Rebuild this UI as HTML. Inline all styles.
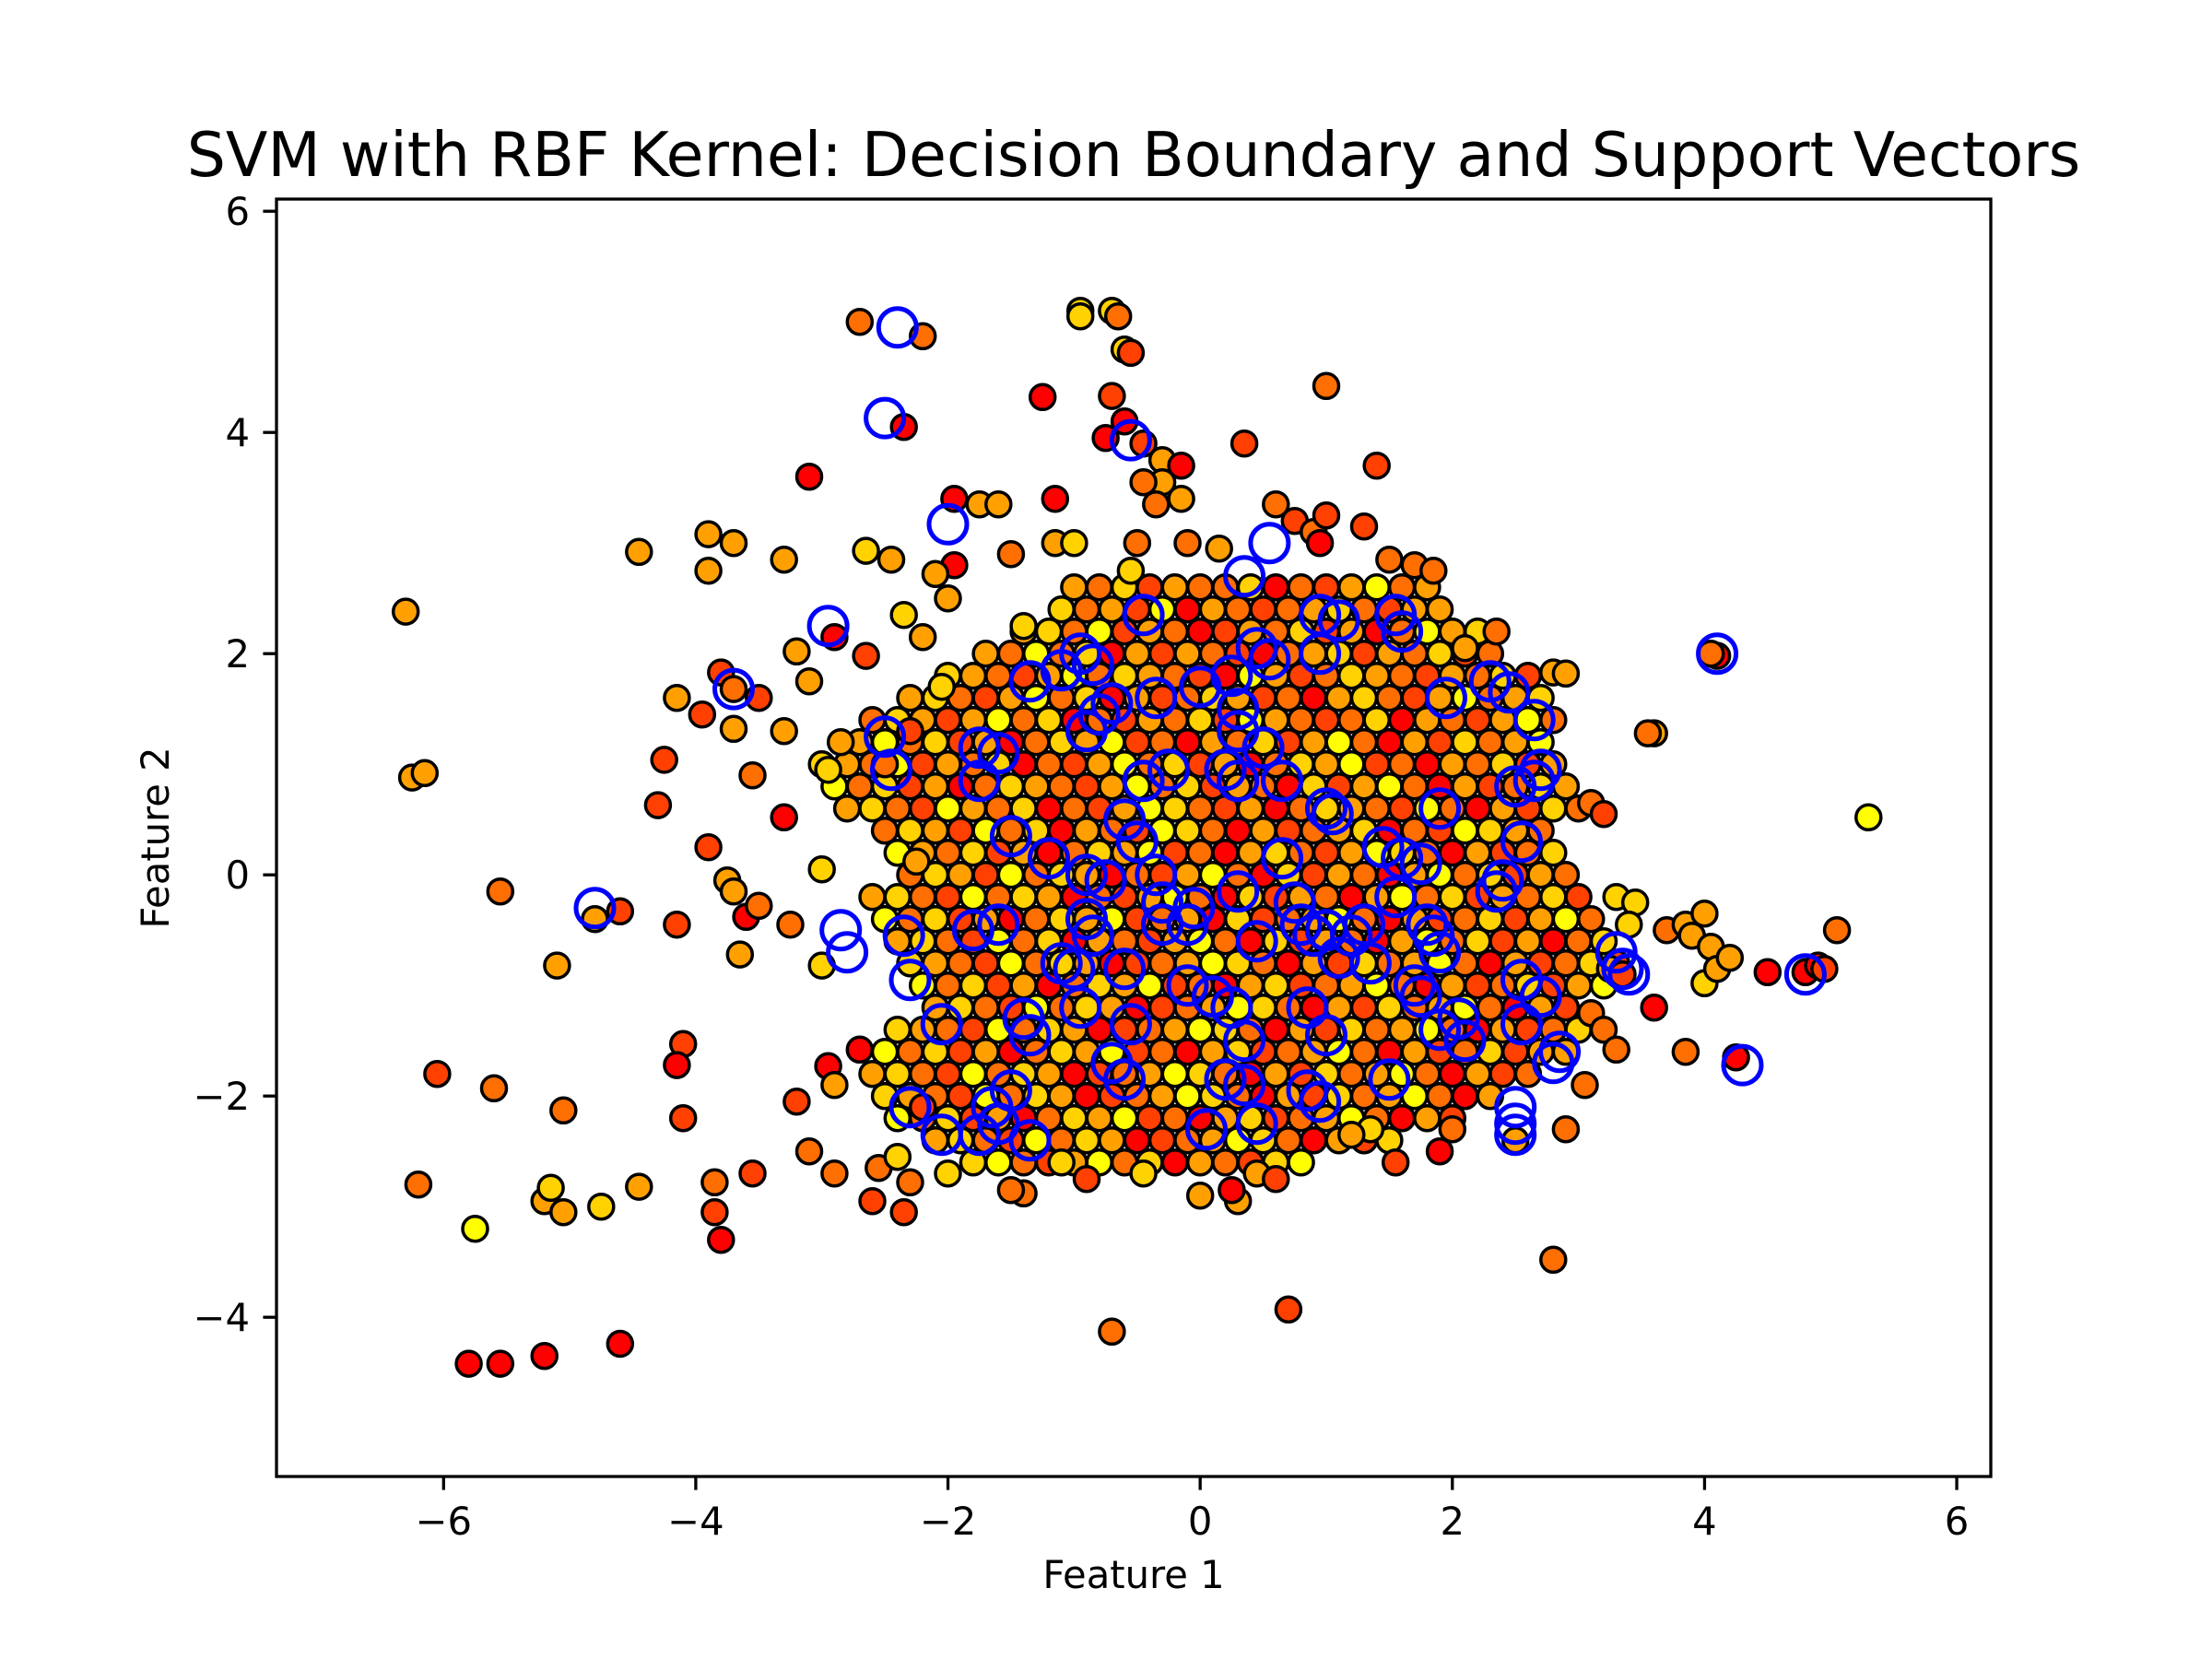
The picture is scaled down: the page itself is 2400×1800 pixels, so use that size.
<!DOCTYPE html>
<html>
<head>
<meta charset="utf-8">
<style>
html,body{margin:0;padding:0;background:#fff;}
svg{display:block;}
text{font-family:"DejaVu Sans","Liberation Sans",sans-serif;fill:#000;}
</style>
</head>
<body>
<svg id="chart" xmlns="http://www.w3.org/2000/svg" width="2400" height="1800" viewBox="0 0 2400 1800">
<rect x="0" y="0" width="2400" height="1800" fill="#fff"/>
<text x="1230" y="191" font-size="66.5" text-anchor="middle">SVM with RBF Kernel: Decision Boundary and Support Vectors</text>
<g id="points"></g>
<g id="svs"></g>
<rect x="300" y="216" width="1860" height="1386" fill="none" stroke="#000" stroke-width="3.3"/>
<g id="xticks"></g>
<g id="yticks"></g>
<text x="1230" y="1723" font-size="41.7" text-anchor="middle">Feature 1</text>
<text x="0" y="0" font-size="41.7" text-anchor="middle" transform="translate(183,909) rotate(-90)">Feature 2</text>
</svg>
<script>
const xTicks=[-6,-4,-2,0,2,4,6];
const yTicks=[-4,-2,0,2,4,6];
const classColors=['#ff0000','#ff4000','#ff6e00','#ffa000','#ffd200','#ffff00'];

const coreRowY=[2.6,2.4,2.2,2.0,1.8,1.6,1.4,1.2,1.0,0.8,0.6,0.4,0.2,0.0,-0.2,-0.4,-0.6,-0.8,-1.0,-1.2,-1.4,-1.6,-1.8,-2.0,-2.2,-2.4,-2.6];
const coreRowX=[
[-1.0,-0.8,-0.6,-0.4,-0.2,0.0,0.2,0.4,0.6,0.8,1.0,1.2,1.4,1.6,1.8],
[-1.1,-0.9,-0.7,-0.5,-0.3,-0.1,0.1,0.3,0.5,0.7,0.9,1.1,1.3,1.5,1.7,1.9],
[-1.4,-1.2,-1.0,-0.8,-0.6,-0.4,-0.2,0.0,0.2,0.4,0.6,0.8,1.0,1.2,1.4,1.6,1.8,2.0,2.2],
[-1.7,-1.5,-1.3,-1.1,-0.9,-0.7,-0.5,-0.3,-0.1,0.1,0.3,0.5,0.7,0.9,1.1,1.3,1.5,1.7,1.9,2.1,2.3],
[-2.0,-1.8,-1.6,-1.4,-1.2,-1.0,-0.8,-0.6,-0.4,-0.2,0.0,0.2,0.4,0.6,0.8,1.0,1.2,1.4,1.6,1.8,2.0,2.2,2.4,2.6],
[-2.3,-2.1,-1.9,-1.7,-1.5,-1.3,-1.1,-0.9,-0.7,-0.5,-0.3,-0.1,0.1,0.3,0.5,0.7,0.9,1.1,1.3,1.5,1.7,1.9,2.1,2.3,2.5,2.7],
[-2.6,-2.4,-2.2,-2.0,-1.8,-1.6,-1.4,-1.2,-1.0,-0.8,-0.6,-0.4,-0.2,0.0,0.2,0.4,0.6,0.8,1.0,1.2,1.4,1.6,1.8,2.0,2.2,2.4,2.6,2.8],
[-2.7,-2.5,-2.3,-2.1,-1.9,-1.7,-1.5,-1.3,-1.1,-0.9,-0.7,-0.5,-0.3,-0.1,0.1,0.3,0.5,0.7,0.9,1.1,1.3,1.5,1.7,1.9,2.1,2.3,2.5,2.7],
[-3.0,-2.8,-2.6,-2.4,-2.2,-2.0,-1.8,-1.6,-1.4,-1.2,-1.0,-0.8,-0.6,-0.4,-0.2,0.0,0.2,0.4,0.6,0.8,1.0,1.2,1.4,1.6,1.8,2.0,2.2,2.4,2.6,2.8],
[-2.9,-2.7,-2.5,-2.3,-2.1,-1.9,-1.7,-1.5,-1.3,-1.1,-0.9,-0.7,-0.5,-0.3,-0.1,0.1,0.3,0.5,0.7,0.9,1.1,1.3,1.5,1.7,1.9,2.1,2.3,2.5,2.7,2.9],
[-2.8,-2.6,-2.4,-2.2,-2.0,-1.8,-1.6,-1.4,-1.2,-1.0,-0.8,-0.6,-0.4,-0.2,0.0,0.2,0.4,0.6,0.8,1.0,1.2,1.4,1.6,1.8,2.0,2.2,2.4,2.6,2.8,3.0],
[-2.5,-2.3,-2.1,-1.9,-1.7,-1.5,-1.3,-1.1,-0.9,-0.7,-0.5,-0.3,-0.1,0.1,0.3,0.5,0.7,0.9,1.1,1.3,1.5,1.7,1.9,2.1,2.3,2.5,2.7],
[-2.4,-2.2,-2.0,-1.8,-1.6,-1.4,-1.2,-1.0,-0.8,-0.6,-0.4,-0.2,0.0,0.2,0.4,0.6,0.8,1.0,1.2,1.4,1.6,1.8,2.0,2.2,2.4,2.6,2.8],
[-2.3,-2.1,-1.9,-1.7,-1.5,-1.3,-1.1,-0.9,-0.7,-0.5,-0.3,-0.1,0.1,0.3,0.5,0.7,0.9,1.1,1.3,1.5,1.7,1.9,2.1,2.3,2.5,2.7,2.9],
[-2.6,-2.4,-2.2,-2.0,-1.8,-1.6,-1.4,-1.2,-1.0,-0.8,-0.6,-0.4,-0.2,0.0,0.2,0.4,0.6,0.8,1.0,1.2,1.4,1.6,1.8,2.0,2.2,2.4,2.6,2.8,3.0],
[-2.5,-2.3,-2.1,-1.9,-1.7,-1.5,-1.3,-1.1,-0.9,-0.7,-0.5,-0.3,-0.1,0.1,0.3,0.5,0.7,0.9,1.1,1.3,1.5,1.7,1.9,2.1,2.3,2.5,2.7,2.9,3.1],
[-2.4,-2.2,-2.0,-1.8,-1.6,-1.4,-1.2,-1.0,-0.8,-0.6,-0.4,-0.2,0.0,0.2,0.4,0.6,0.8,1.0,1.2,1.4,1.6,1.8,2.0,2.2,2.4,2.6,2.8,3.0,3.2],
[-2.3,-2.1,-1.9,-1.7,-1.5,-1.3,-1.1,-0.9,-0.7,-0.5,-0.3,-0.1,0.1,0.3,0.5,0.7,0.9,1.1,1.3,1.5,1.7,1.9,2.1,2.3,2.5,2.7,2.9,3.1,3.3],
[-2.2,-2.0,-1.8,-1.6,-1.4,-1.2,-1.0,-0.8,-0.6,-0.4,-0.2,0.0,0.2,0.4,0.6,0.8,1.0,1.2,1.4,1.6,1.8,2.0,2.2,2.4,2.6,2.8,3.0,3.2],
[-2.1,-1.9,-1.7,-1.5,-1.3,-1.1,-0.9,-0.7,-0.5,-0.3,-0.1,0.1,0.3,0.5,0.7,0.9,1.1,1.3,1.5,1.7,1.9,2.1,2.3,2.5,2.7,2.9],
[-2.4,-2.2,-2.0,-1.8,-1.6,-1.4,-1.2,-1.0,-0.8,-0.6,-0.4,-0.2,0.0,0.2,0.4,0.6,0.8,1.0,1.2,1.4,1.6,1.8,2.0,2.2,2.4,2.6,2.8,3.0],
[-2.5,-2.3,-2.1,-1.9,-1.7,-1.5,-1.3,-1.1,-0.9,-0.7,-0.5,-0.3,-0.1,0.1,0.3,0.5,0.7,0.9,1.1,1.3,1.5,1.7,1.9,2.1,2.3,2.5,2.7],
[-2.6,-2.4,-2.2,-2.0,-1.8,-1.6,-1.4,-1.2,-1.0,-0.8,-0.6,-0.4,-0.2,0.0,0.2,0.4,0.6,0.8,1.0,1.2,1.4,1.6,1.8,2.0,2.2,2.4,2.6],
[-2.5,-2.3,-2.1,-1.9,-1.7,-1.5,-1.3,-1.1,-0.9,-0.7,-0.5,-0.3,-0.1,0.1,0.3,0.5,0.7,0.9,1.1,1.3,1.5,1.7,1.9,2.1,2.3],
[-2.4,-2.2,-2.0,-1.8,-1.6,-1.4,-1.2,-1.0,-0.8,-0.6,-0.4,-0.2,0.0,0.2,0.4,0.6,0.8,1.0,1.2,1.4,1.6,1.8,2.0],
[-2.1,-1.9,-1.7,-1.5,-1.3,-1.1,-0.9,-0.7,-0.5,-0.3,-0.1,0.1,0.3,0.5,0.7,0.9,1.1,1.3,1.5],
[-1.8,-1.6,-1.4,-1.2,-1.0,-0.8,-0.6,-0.4,-0.2,0.0,0.2,0.4,0.6,0.8]
];
const coreRowClass=[
"324132240213523",
"4231503212342133",
"3425132013241302534",
"325240313210234132412",
"432135243210531243213241",
"34213524031243120342135234",
"2431352402132415321240321352",
"3524130243512032413520314235",
"432513240213524130243512032413",
"524130243213524132041352031243",
"342153240213542130243215203142",
"243152403215420312340215432",
"532413024351203421354203124",
"243152430213520413203524132",
"34215243021352041320352413241",
"52413024351230412352031241352",
"34215240321352041320352413024",
"43215243012354203142352031241",
"5241302435120341235203124135",
"34215243012354203142352031",
"4321524301235420314235203124",
"524130243512034123520312413",
"342152430123542031423520312",
"4321524301235420314235203",
"52413024351203412352031",
"3421524301235420314",
"45213524032145"
];

const outX=[-6.3,-6.25,-6.15,-6.05,-6.2,-5.75,-5.8,-5.55,-5.2,-4.6,-5.6,-5.55,-5.1,-5.05,-5.2,-5.15,-5.05,-4.75,-4.45,-4.8,-4.6,-4.45,-4.3,-4.25,-4.15,-4.15,-4.1,-4.1,-4.15,-3.95,-3.9,-3.9,-3.9,-3.85,-3.85,-3.8,-3.8,-3.7,-3.7,-3.7,-3.75,-3.7,-3.65,-3.6,-3.55,-3.55,-3.5,-3.5,-3.3,-3.3,-3.3,-3.25,-3.2,-3.2,-3.1,-3.1,-3.1,-3.0,-3.0,-2.95,-2.9,-2.9,-2.7,-2.65,-2.7,-2.6,-2.55,-2.45,-2.35,-2.35,-2.2,-2.35,-2.3,-2.4,-1.95,-1.95,-1.75,-1.6,-1.5,-1.4,-1.25,-1.15,-1.15,-1.0,-0.95,-0.95,-0.7,-0.65,-0.6,-0.55,-0.7,-0.6,-0.75,-0.45,-0.3,-0.15,-0.3,-0.45,-0.35,-0.15,-0.5,-0.55,-0.1,0.15,0.35,0.6,0.75,0.9,1.0,0.95,1.0,1.3,1.4,1.5,1.7,1.85,2.35,2.1,4.1,4.05,3.6,3.55,2.8,2.9,3.1,3.2,5.3,3.7,3.85,3.9,4.0,4.05,4.0,4.1,4.2,5.05,4.5,4.8,4.9,4.95,4.25,3.6,3.85,3.1,3.2,3.3,3.05,3.25,3.3,3.45,3.4,2.8,0.7,-0.7,0.3,0.0,0.25,0.45,0.6,-0.45,-1.4,-1.5,-1.1,-0.9,1.55,1.9,2.0,2.5,2.9,2.9,3.35,1.35,1.2,-2.0,-2.2,-2.25,-2.3,-2.5,-2.65,-2.1,-2.0,-2.2,-2.9,-2.85,-2.95,-2.05];
const outY=[2.38,0.88,0.92,-1.8,-2.8,-3.2,-4.42,-4.42,-4.35,-4.24,-1.93,-0.15,-0.82,-2.13,-2.95,-2.83,-3.05,-3.0,-2.82,-0.4,-0.33,2.92,0.63,1.04,-0.45,1.6,-1.53,-2.2,-1.72,1.45,3.08,2.75,0.25,-2.78,-3.05,-3.3,1.83,1.68,3.0,1.32,-0.05,-0.15,-0.72,-0.38,0.9,-2.7,-0.28,1.6,2.85,1.3,0.52,-0.45,2.02,-2.05,3.6,1.75,-2.5,0.05,-0.82,-1.73,-2.7,-1.9,5.0,2.93,-1.58,-2.95,-2.65,2.85,2.35,4.05,4.87,-3.05,-2.78,-2.55,3.4,2.8,3.35,3.35,2.9,2.25,4.32,3.4,3.0,3.0,5.1,5.05,5.1,5.05,4.75,4.72,4.33,4.1,3.95,3.9,3.75,3.7,3.55,3.55,3.35,3.4,3.0,2.75,3.0,2.95,3.9,3.35,3.2,3.1,3.25,3.0,4.42,3.15,3.7,2.85,2.8,2.75,2.2,2.05,1.98,2.0,1.28,1.28,1.83,1.82,0.65,0.55,0.52,-0.5,-0.45,-0.55,-0.35,-0.65,-0.98,-0.85,-0.75,-0.5,-0.88,-0.88,-0.82,-0.85,-1.65,-1.2,-1.6,-1.25,-1.4,-1.58,-1.9,-0.85,-0.2,-0.25,-0.45,-3.48,-3.93,-4.13,-2.95,-2.9,-2.85,-2.7,-2.75,-2.7,-2.88,-2.85,-2.6,-2.75,-2.6,-2.5,-2.3,-2.4,-2.3,-1.6,-0.9,-2.3,-2.35,-2.7,-2.1,0.12,1.3,1.0,1.98,2.72,2.5,2.15,2.15,1.2,0.95,1.7];
const outClass=[3,3,3,1,2,5,0,0,0,0,2,2,3,2,3,4,3,4,3,3,1,3,1,1,1,3,1,1,0,1,3,3,1,2,1,0,1,2,3,3,3,3,3,0,2,1,2,1,3,3,0,2,3,1,0,3,2,4,4,0,2,3,2,4,0,1,2,3,4,0,2,1,2,4,0,0,3,3,2,4,0,0,3,4,4,4,4,2,4,1,1,0,0,1,3,0,3,2,2,3,2,4,2,3,1,2,1,2,1,0,2,1,1,2,2,2,2,3,0,2,3,2,3,3,2,1,5,2,3,3,3,3,4,3,3,2,0,0,0,1,0,0,2,2,2,2,2,3,4,4,4,2,1,2,3,3,0,3,1,4,2,2,4,1,1,0,2,3,2,3,1,4,3,4,1,3,1,2,1,3,3,3,0,3,4,4];

const svX=[-2.4,-2.5,-0.55,-2.0,0.35,0.55,-2.95,-0.45,0.45,0.55,0.95,1.1,0.95,1.55,1.6,-0.95,-0.85,-1.1,-1.35,-0.7,-0.35,0.0,0.25,0.3,0.3,0.5,-3.7,-2.5,-2.45,-1.75,-1.6,-1.75,-0.9,-0.8,-0.25,-0.45,0.2,0.3,0.65,1.0,1.9,1.05,-1.5,-1.2,-0.6,-0.5,-0.9,-0.75,-0.35,0.65,1.45,1.6,1.75,1.95,2.3,2.45,2.65,2.5,2.65,2.7,2.55,2.4,2.35,4.1,-4.8,-2.85,-2.8,-2.35,-2.3,-1.8,-1.6,-0.9,-0.85,-0.3,-0.3,-0.05,-0.1,0.3,0.45,0.75,0.8,0.9,1.0,1.1,1.2,1.3,1.35,1.55,1.8,1.85,1.9,1.7,1.75,-1.1,-1.0,-0.95,-0.6,-0.55,-0.1,0.1,0.25,0.35,0.85,1.0,-2.05,-1.4,-1.35,-0.7,-0.6,0.2,0.35,0.85,0.95,1.5,1.9,2.1,2.05,2.55,2.55,2.7,2.85,2.8,3.3,3.35,3.4,4.8,4.3,2.5,2.5,2.5,-2.05,-1.75,-1.65,-1.6,-1.35,-2.3,0.05,0.45,-1.5];
const svY=[4.95,4.13,3.93,3.17,2.7,3.0,2.25,2.35,2.05,1.95,2.35,2.3,2.0,2.35,2.2,2.0,1.9,1.85,1.75,1.55,1.6,1.7,1.8,1.5,1.3,1.15,1.68,1.25,0.95,1.15,1.1,0.85,1.3,1.45,0.95,0.85,0.95,0.85,0.85,0.6,0.6,0.55,0.35,0.15,0.5,0.3,0.0,-0.05,0.0,0.15,0.25,0.15,0.1,1.6,1.75,1.65,1.4,0.8,0.85,0.95,0.3,-0.05,-0.15,2.0,-0.3,-0.5,-0.7,-0.55,-0.95,-0.5,-0.45,-0.4,-0.55,-0.25,-0.45,-0.3,-0.45,-0.15,-0.6,-0.25,-0.45,-0.55,-0.5,-0.75,-0.55,-0.45,-0.8,-0.2,-0.45,-0.55,-0.7,-1.0,-1.1,-0.8,-0.85,-1.2,-0.85,-1.35,-1.0,-1.1,-1.2,-1.5,-1.2,-1.45,-1.35,-1.3,-1.45,-1.7,-1.85,-1.85,-1.9,-1.95,-2.05,-1.85,-1.4,-1.5,-1.3,-0.95,-1.35,-1.1,-1.6,-1.7,-0.7,-0.85,-0.9,-0.9,-1.72,-2.1,-2.25,-2.35,-2.35,-2.35,-2.1,-2.25,-2.4,-2.1,-2.3,-2.25,-1.95];

const NS='http://www.w3.org/2000/svg';
const X0=300,X1=2160,Y0=216,Y1=1602,xMin=-7.325,xMax=6.27,yMin=-5.44,yMax=6.11;
function sx(v){return X0+(v-xMin)/(xMax-xMin)*(X1-X0);}
function sy(v){return Y1-(v-yMin)/(yMax-yMin)*(Y1-Y0);}
function mk(tag,attrs,parent){const e=document.createElementNS(NS,tag);for(const k in attrs)e.setAttribute(k,attrs[k]);parent.appendChild(e);return e;}

const gp=document.getElementById('points');
function dot(x,y,c){
  const e=mk('circle',{cx:sx(x).toFixed(1),cy:sy(y).toFixed(1),r:13.5,fill:classColors[c]||classColors[3],stroke:'#000','stroke-width':3.5},gp);
  
  
}
coreRowY.forEach((yv,ri)=>{
  const xs=coreRowX[ri],cs=coreRowClass[ri];
  xs.forEach((xv,i)=>{dot(xv,yv,parseInt(cs.charAt(i)||'3',10));});
});
outX.forEach((xv,i)=>dot(xv,outY[i],outClass[i]));

const gs=document.getElementById('svs');
svX.forEach((xv,i)=>{
  const e=mk('circle',{cx:sx(xv).toFixed(1),cy:sy(svY[i]).toFixed(1),r:20.5,fill:'none',stroke:'#0000ff','stroke-width':5},gs);
  
  
});

const gx=document.getElementById('xticks');
xTicks.forEach(t=>{
  const x=sx(t);
  const l=mk('line',{x1:x,y1:Y1,x2:x,y2:Y1+14.6,stroke:'#000','stroke-width':3.3},gx);
  
  
  const tx=mk('text',{x:x,y:1665,'font-size':41.7,'text-anchor':'middle'},gx);
  tx.textContent=(t<0?'\u2212':'')+Math.abs(t);
  
  
});
const gy=document.getElementById('yticks');
yTicks.forEach(t=>{
  const y=sy(t);
  const l=mk('line',{x1:X0-14.6,y1:y,x2:X0,y2:y,stroke:'#000','stroke-width':3.3},gy);
  
  
  const tx=mk('text',{x:271,y:y+15,'font-size':41.7,'text-anchor':'end'},gy);
  tx.textContent=(t<0?'\u2212':'')+Math.abs(t);
  
  
});
</script>
</body>
</html>
